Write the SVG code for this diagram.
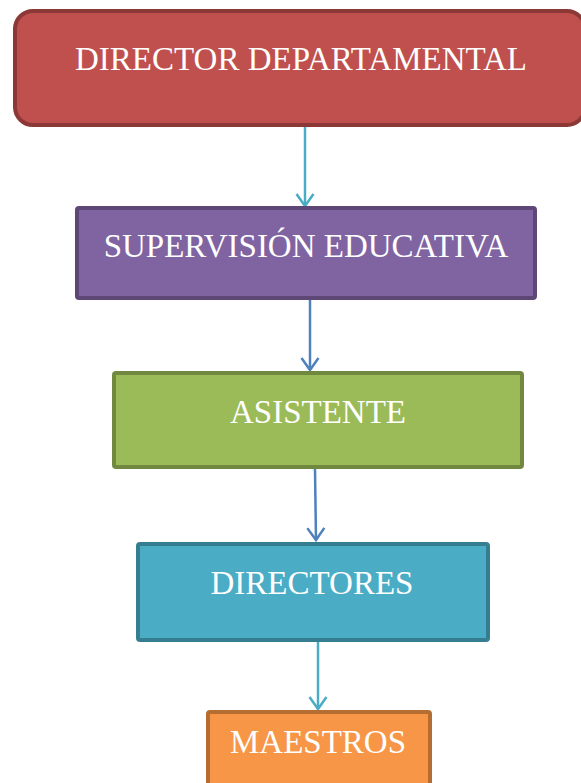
<svg xmlns="http://www.w3.org/2000/svg" width="581" height="783" viewBox="0 0 581 783">
<style>
.lbl{font-family:"Liberation Serif","Times New Roman",serif;font-size:33px;fill:#ffffff;text-anchor:middle}
.box{stroke-width:4}
.con{fill:none;stroke-width:2.5}
</style>
<defs>
<marker id="arrC" markerUnits="userSpaceOnUse" markerWidth="18" markerHeight="22" viewBox="-15 -11 18 22" refX="0" refY="0" orient="auto">
<path d="M-12,-8.5 L0,0 L-12,8.5" fill="none" stroke="#4BACC6" stroke-width="2.5"/>
</marker>
<marker id="arrB" markerUnits="userSpaceOnUse" markerWidth="18" markerHeight="22" viewBox="-15 -11 18 22" refX="0" refY="0" orient="auto">
<path d="M-12,-8.5 L0,0 L-12,8.5" fill="none" stroke="#4F81BD" stroke-width="2.5"/>
</marker>
</defs>
<rect width="581" height="783" fill="#ffffff"/>
<g id="connectors">
<line class="con" x1="305" y1="127" x2="305" y2="206" stroke="#4BACC6" marker-end="url(#arrC)"/>
<line class="con" x1="310" y1="300" x2="310" y2="370" stroke="#4F81BD" marker-end="url(#arrB)"/>
<line class="con" x1="315" y1="469" x2="316" y2="540" stroke="#4F81BD" marker-end="url(#arrB)"/>
<line class="con" x1="318" y1="642" x2="318" y2="709" stroke="#4BACC6" marker-end="url(#arrC)"/>
</g>
<g id="director-departamental">
<rect class="box" x="15" y="11" width="570" height="114" rx="18" fill="#C0504D" stroke="#8C3836"/>
<text class="lbl" x="301" y="70">DIRECTOR DEPARTAMENTAL</text>
</g>
<g id="supervision-educativa">
<rect class="box" x="77" y="208" width="458" height="90" rx="2" fill="#8064A2" stroke="#5C4776"/>
<text class="lbl" x="306" y="257">SUPERVISIÓN EDUCATIVA</text>
</g>
<g id="asistente">
<rect class="box" x="114" y="373" width="408" height="94" rx="2" fill="#9BBB59" stroke="#71893F"/>
<text class="lbl" x="318" y="423">ASISTENTE</text>
</g>
<g id="directores">
<rect class="box" x="138" y="544" width="350" height="96" rx="2" fill="#4BACC6" stroke="#357D91"/>
<text class="lbl" x="312" y="594">DIRECTORES</text>
</g>
<g id="maestros">
<rect class="box" x="208" y="712" width="222" height="90" rx="2" fill="#F79646" stroke="#B66D31"/>
<text class="lbl" x="318" y="753">MAESTROS</text>
</g>
</svg>
